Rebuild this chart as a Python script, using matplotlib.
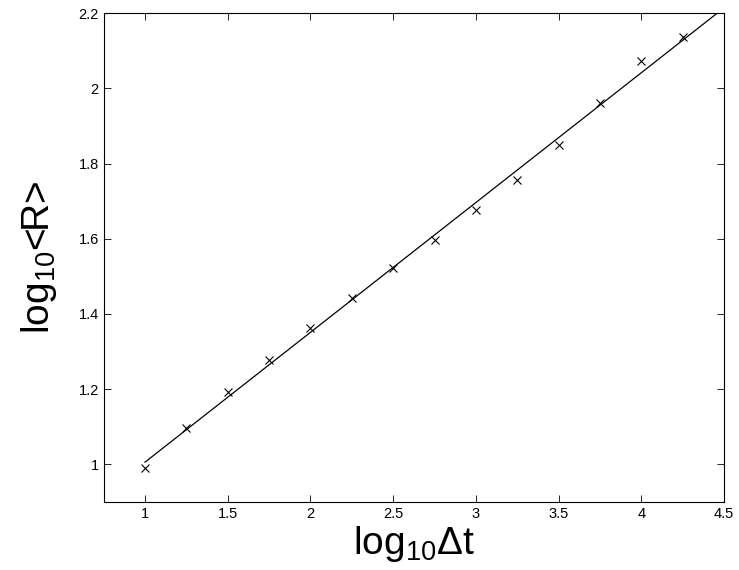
import numpy as np
import matplotlib.pyplot as plt

plt.rcParams['font.family'] = ['Liberation Sans Narrow', 'Liberation Sans', 'DejaVu Sans']
plt.rcParams['mathtext.fontset'] = 'custom'
plt.rcParams['mathtext.rm'] = 'Liberation Sans'
plt.rcParams['mathtext.it'] = 'Liberation Sans:italic'

# measured points
log_dt = [1.0, 1.25, 1.5, 1.75, 2.0, 2.25, 2.5, 2.75, 3.0, 3.25, 3.5, 3.75, 4.0, 4.25]
log_R = [0.99, 1.097, 1.192, 1.278, 1.363, 1.443, 1.523, 1.598, 1.676, 1.757,
         1.848, 1.960, 2.073, 2.137]

# fitted line endpoints
fit_x = [1.0, 4.5]
fit_y = [1.006, 2.214]

fig = plt.figure(figsize=(7.39, 5.70), dpi=100)
ax = fig.add_axes([0.1403, 0.1193, 0.8394, 0.8577])

ax.plot(fit_x, fit_y, color='black', linewidth=0.9)
ax.plot(log_dt, log_R, 'x', color='black', markersize=5.5, markeredgewidth=0.8)

ax.set_xlim(0.75, 4.5)
ax.set_ylim(0.9, 2.2)
ax.set_xticks([1, 1.5, 2, 2.5, 3, 3.5, 4, 4.5])
ax.set_xticklabels(['1', '1.5', '2', '2.5', '3', '3.5', '4', '4.5'])
ax.set_yticks([1, 1.2, 1.4, 1.6, 1.8, 2, 2.2])
ax.set_yticklabels(['1', '1.2', '1.4', '1.6', '1.8', '2', '2.2'])
ax.tick_params(direction='in', top=True, right=True, labelsize=10.5, length=5, width=0.6)
for s in ax.spines.values():
    s.set_linewidth(0.8)

ax.set_xlabel(r'log$_{\mathrm{10}}$$\Delta$t', fontsize=28, labelpad=2)
ax.set_ylabel(r'log$_{\mathrm{10}}$<R>', fontsize=28, labelpad=14)

fig.savefig('out.png', dpi=100)
